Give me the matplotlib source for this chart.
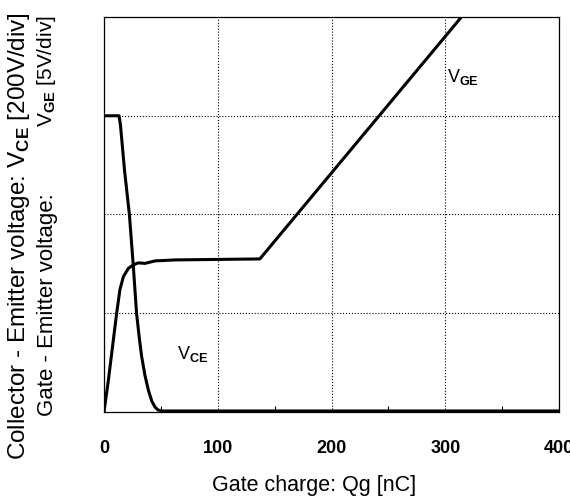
import matplotlib
matplotlib.use('Agg')
import matplotlib.pyplot as plt

plt.rcParams['font.family'] = 'Liberation Sans'
plt.rcParams['mathtext.fontset'] = 'custom'
plt.rcParams['mathtext.rm'] = 'Liberation Sans'
plt.rcParams['mathtext.bf'] = 'Liberation Sans:bold'

# gate charge curves, y in divisions (4 div full scale)
qg_vce = [0, 13.2, 14.5, 18, 22.3, 25.8, 28.6, 31, 33.1, 36, 39, 42, 44.8, 47.5, 50.7, 100, 200, 300, 400]
vce = [3.0, 3.0, 2.9, 2.45, 2.0, 1.47, 1.0, 0.75, 0.56, 0.37, 0.22, 0.11, 0.05, 0.02, 0.01, 0.01, 0.01, 0.01, 0.01]

qg_vge = [0, 3.8, 11.1, 14, 17, 21.4, 25.8, 30, 36, 44.8, 62.4, 100, 137, 320]
vge = [0, 0.32, 1.0, 1.24, 1.37, 1.455, 1.49, 1.51, 1.505, 1.53, 1.54, 1.545, 1.55, 4.08]

fig = plt.figure(figsize=(5.7, 4.96), dpi=100)
ax = fig.add_axes([0.1825, 0.1694, 0.7982, 0.7963])

ax.plot(qg_vce, vce, color='black', lw=2.2)
ax.plot(qg_vge, vge, color='black', lw=2.2)

ax.set_xlim(0, 400)
ax.set_ylim(0, 4)
ax.set_xticks([0, 100, 200, 300, 400])
ax.set_xticks([50, 150, 250, 350], minor=True)
ax.set_yticks([1, 2, 3])
ax.set_yticklabels([])
ax.grid(True, which='major', linestyle=':', color='black', lw=0.8)
ax.tick_params(axis='x', which='major', length=0, pad=20, labelsize=13)
ax.tick_params(axis='x', which='minor', length=4, direction='in', width=0.8)
ax.tick_params(axis='y', length=0)
for lbl in ax.get_xticklabels():
    lbl.set_fontweight('bold')
for s in ax.spines.values():
    s.set_linewidth(0.9)

ax.text(64, 0.59, r'V$_{\mathbf{CE}}$', fontsize=13, va='center', ha='left')
ax.text(301.5, 3.39, r'V$_{\mathbf{GE}}$', fontsize=13, va='center', ha='left')

fig.text(314 / 570, 1 - 485 / 496, 'Gate charge: Qg [nC]', fontsize=15.5, ha='center', va='center')
fig.text(19 / 570, 1 - 236.5 / 496, r'Collector - Emitter voltage: V$_{\mathbf{CE}}$ [200V/div]',
         fontsize=17.5, rotation=90, ha='center', va='center')
fig.text(47 / 570, 1 - 304.5 / 496, 'Gate - Emitter voltage:',
         fontsize=16, rotation=90, ha='center', va='center')
fig.text(47 / 570, 1 - 71 / 496, r'V$_{\mathbf{GE}}$ [5V/div]',
         fontsize=15, rotation=90, ha='center', va='center')

fig.savefig('out.png', dpi=100)
